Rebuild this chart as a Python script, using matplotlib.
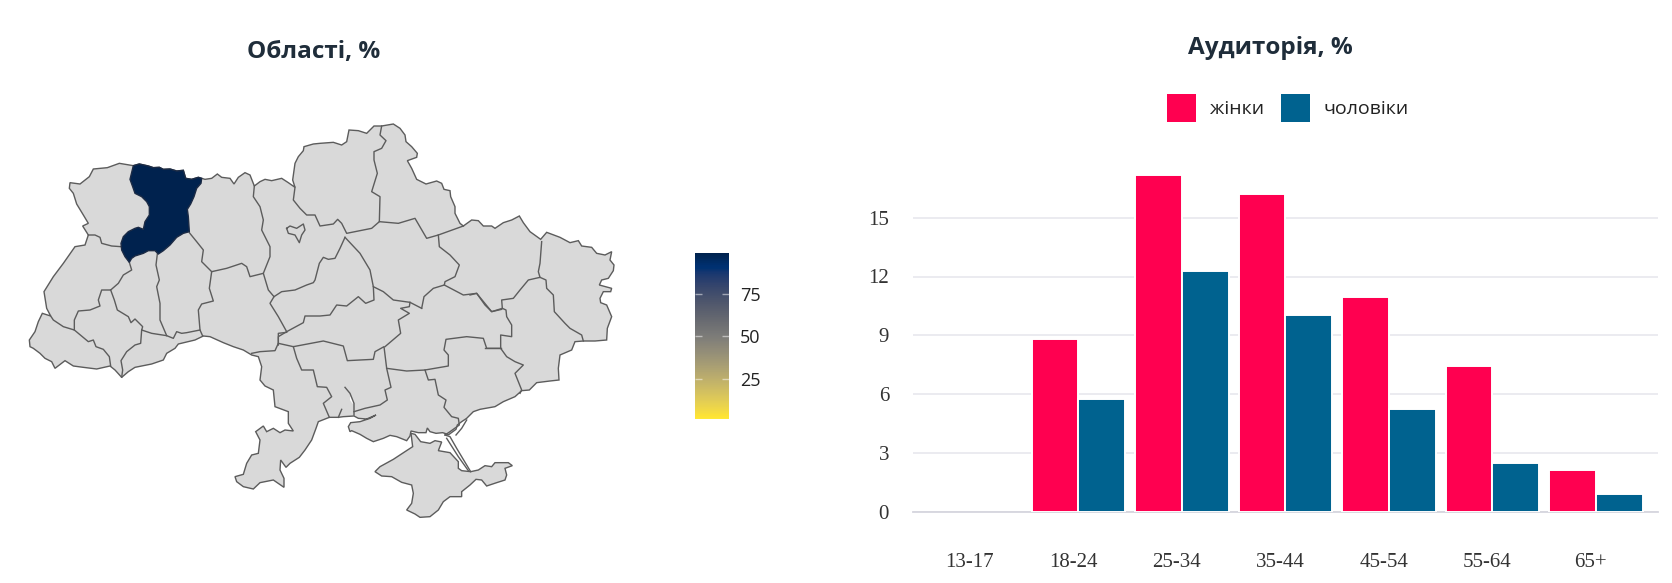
import numpy as np
import matplotlib
matplotlib.use('Agg')
import matplotlib.pyplot as plt
from matplotlib.cm import ScalarMappable
from matplotlib.colors import Normalize
from matplotlib.patches import Patch, Polygon

W, H = 1672, 583
plt.rcParams['font.family'] = ['Open Sans', 'DejaVu Sans']

# bar chart data
age_groups = ['13-17', '18-24', '25-34', '35-44', '45-54', '55-64', '65+']
women = [0, 8.8, 17.2, 16.2, 10.95, 7.43, 2.13]
men = [0, 5.73, 12.3, 10.03, 5.24, 2.47, 0.9]
y_ticks = [0, 3, 6, 9, 12, 15]

# map data: only one oblast has a value, the rest have no data
rivne_share = 99
scale_min, scale_max = 1.5, 99
scale_ticks = [25, 50, 75]


def crop(x0, y0, pts):
    return [(x0 + x / 3, y0 + y / 3) for x, y in pts]


def west(pts):
    return crop(20, 100, pts)


def north(pts):
    return crop(300, 100, pts)


def east(pts):
    return crop(470, 200, pts)


def south(pts):
    return crop(210, 300, pts)


def azov(pts):
    return crop(350, 400, pts)


def carpath(pts):
    return crop(20, 290, pts)


mainland = (
    west([(340, 197), (358, 192), (385, 198), (400, 203), (418, 202), (430, 208), (450, 207), (470, 213), (490, 211),
          (497, 235), (515, 238), (535, 232), (545, 235), (555, 238), (575, 235), (592, 222), (605, 232), (630, 235),
          (642, 252), (655, 232), (675, 218), (690, 225), (703, 258), (720, 245), (735, 238), (755, 242), (785, 235),
          (805, 248), (825, 262), (818, 240), (825, 190), (835, 170), (850, 152), (852, 140), (880, 132)])
    + north([(60, 130), (100, 127), (125, 135), (140, 125), (147, 90), (175, 92), (200, 100), (222, 78), (245, 78),
             (280, 72), (300, 85), (315, 105), (318, 125), (335, 140), (352, 160), (350, 172), (322, 182), (335, 205),
             (350, 238), (378, 252), (410, 243), (425, 250), (432, 268), (450, 272), (452, 290), (465, 320), (465, 340),
             (480, 370), (490, 378), (515, 360), (535, 362), (550, 378), (575, 378), (585, 385), (610, 368), (635, 360),
             (658, 348), (670, 368), (690, 395), (722, 418)])
    + east([(230, 97), (270, 112), (300, 128), (325, 122), (335, 138), (365, 142), (380, 160), (405, 165), (425, 155),
            (420, 180), (432, 195), (430, 212), (415, 235), (395, 240), (388, 255), (425, 265), (422, 275), (400, 275),
            (390, 295), (392, 308), (410, 315), (425, 350), (412, 385), (410, 420), (375, 423), (340, 423), (315, 425),
            (305, 450), (270, 465), (265, 505), (267, 540), (240, 543), (200, 548), (178, 570), (155, 572), (135, 590),
            (100, 605), (75, 620), (30, 628)])
    + azov([(370, 35), (350, 55), (335, 65), (322, 75), (318, 88), (296, 104), (278, 98), (258, 100), (240, 95),
            (232, 84), (228, 98), (205, 98), (183, 93), (180, 108), (170, 122), (140, 110), (120, 106), (100, 115),
            (70, 125), (50, 115), (30, 103), (5, 92)])
    + south([(420, 395), (415, 380), (422, 368), (450, 365), (480, 355), (498, 345), (470, 357), (445, 355), (432, 348),
             (400, 350), (385, 352), (358, 352), (325, 365), (318, 385), (305, 420), (285, 450), (268, 472), (240, 490),
             (228, 502), (212, 480), (210, 510), (222, 535), (222, 562), (190, 540), (150, 548), (130, 567), (100, 560),
             (80, 545), (75, 530), (100, 523), (110, 490), (125, 465), (145, 460), (150, 420), (137, 395), (160, 378),
             (170, 395), (190, 385), (210, 398), (225, 390), (250, 393), (235, 370), (235, 335), (195, 320), (190, 270),
             (165, 258), (150, 240), (155, 200), (145, 170), (125, 165), (100, 150), (70, 140), (40, 128)])
    + carpath([(570, 140), (550, 138), (525, 150), (475, 162), (465, 175), (440, 190), (430, 210), (395, 222), (345, 232),
               (325, 245), (305, 262), (285, 240), (270, 228), (230, 237), (190, 232), (160, 228), (135, 212), (105, 235),
               (95, 215), (75, 205), (60, 190), (40, 175), (30, 170), (28, 150), (45, 125), (55, 95), (67, 70), (92, 78)])
    + west([(80, 625), (72, 575), (100, 530), (130, 490), (165, 440), (195, 435), (205, 405), (188, 378), (205, 370),
            (190, 345), (170, 312), (160, 280), (148, 265), (150, 248), (180, 252), (208, 230), (220, 207), (262, 203),
            (298, 190)])
)

crimea = azov([(75, 215), (90, 200), (130, 178), (165, 155), (188, 140), (183, 100), (195, 103), (212, 125), (240, 130),
               (255, 122), (275, 126), (265, 152), (300, 158), (325, 185), (325, 205), (335, 212), (362, 215), (385, 210),
               (405, 197), (425, 200), (435, 188), (475, 188), (487, 197), (465, 205), (470, 225), (465, 240), (440, 248),
               (410, 258), (395, 240), (378, 238), (360, 255), (335, 275), (335, 290), (300, 290), (280, 305), (265, 330),
               (240, 350), (210, 352), (195, 342), (170, 330), (185, 310), (190, 280), (185, 255), (155, 247), (125, 230),
               (95, 228)])

rivne = west([(340, 197), (358, 192), (385, 198), (400, 203), (418, 202), (430, 208), (450, 207), (470, 213), (490, 211),
              (497, 235), (515, 238), (535, 232), (545, 235), (543, 250), (530, 265), (522, 290), (512, 312), (502, 328),
              (505, 350), (508, 395), (490, 400), (470, 412), (450, 435), (430, 452), (415, 462), (405, 452), (385, 452),
              (370, 460), (345, 468), (335, 475), (328, 487), (315, 470), (305, 450), (303, 430), (310, 410), (325, 395),
              (345, 385), (355, 382), (370, 388), (375, 365), (388, 345), (388, 320), (380, 305), (365, 290), (345, 280),
              (338, 260), (330, 238)])

kyiv_city = west([(800, 385), (810, 378), (830, 385), (850, 372), (855, 390), (845, 405), (838, 428), (825, 405),
                  (805, 400), (800, 385)])

borders = [
    west([(205, 405), (225, 405), (240, 412), (245, 430), (275, 438), (303, 440)]),
    west([(328, 487), (335, 510), (310, 525), (295, 550), (272, 570), (245, 570), (235, 600), (240, 618), (210, 630),
          (175, 633), (163, 660), (163, 690), (130, 680), (100, 660), (92, 648)]),
    west([(163, 690), (205, 725), (220, 720), (228, 740), (250, 748), (268, 770), (272, 798)]),
    carpath([(305, 262), (308, 240), (303, 212), (320, 185), (345, 165), (362, 160), (365, 120)]),
    west([(272, 570), (283, 600), (292, 630), (325, 650), (333, 668), (345, 657), (368, 680), (365, 690), (395, 700),
          (440, 707), (460, 715), (470, 695), (485, 700), (500, 698), (540, 690), (548, 708)]),
    west([(412, 462), (408, 495), (418, 540), (410, 560), (420, 610), (420, 660), (440, 707)]),
    west([(540, 690), (535, 630), (545, 612), (580, 603), (568, 565), (575, 515), (620, 505), (665, 490), (680, 500),
          (690, 530), (730, 520), (745, 570), (762, 590), (750, 610), (775, 650), (800, 695), (775, 710), (775, 735)]),
    west([(508, 398), (530, 425), (550, 450), (545, 485), (575, 515)]),
    west([(703, 258), (700, 290), (720, 320), (730, 360), (725, 390), (750, 440), (750, 470), (730, 520)]),
    west([(762, 590), (785, 575), (825, 570), (860, 555), (880, 548)])
    + north([(45, 540), (58, 490), (70, 472), (85, 478), (105, 475), (120, 445), (135, 412)]),
    west([(825, 262), (820, 300), (840, 325)])
    + north([(20, 345), (45, 345), (60, 378), (100, 372), (113, 358), (125, 370), (140, 400), (190, 390), (215, 385),
             (238, 365)]),
    north([(245, 78), (240, 105), (258, 122), (245, 145), (222, 155), (222, 180), (232, 220), (215, 275), (240, 290),
           (238, 365), (295, 370), (345, 355), (380, 415), (415, 405), (490, 378)]),
    north([(415, 405), (418, 440), (450, 465), (478, 495), (465, 530), (435, 545), (433, 555), (400, 565), (372, 590),
           (365, 625)]),
    north([(135, 412), (180, 460), (210, 510), (220, 560), (250, 575), (280, 600), (330, 607), (365, 625)]),
    north([(330, 607), (328, 620), (302, 625), (328, 640), (295, 660), (302, 700), (255, 740)]),
    west([(800, 695), (850, 668), (855, 648), (900, 648)])
    + north([(90, 645), (110, 615), (140, 618), (175, 590), (197, 610), (222, 600), (220, 560)]),
    south([(125, 160), (150, 155), (195, 152), (205, 130), (250, 140), (340, 123), (400, 138), (412, 182), (450, 180),
           (490, 178), (495, 155), (522, 140), (530, 205), (543, 262), (525, 270), (532, 300), (510, 315), (465, 325),
           (432, 335)]),
    south([(230, 97), (205, 100), (205, 130)]),
    south([(250, 140), (260, 175), (275, 210), (310, 210), (322, 260), (350, 262), (365, 290), (340, 310), (358, 352)]),
    south([(530, 205), (590, 213), (645, 210), (715, 198), (715, 165), (702, 150), (708, 118), (770, 110), (820, 115),
           (830, 145), (872, 145)]),
    south([(645, 210), (655, 240), (675, 238), (685, 285), (708, 300), (702, 322), (725, 350), (745, 355), (748, 375),
           (720, 395), (705, 405)]),
    east([(0, 285), (20, 280), (45, 315), (65, 335), (97, 325), (108, 330), (110, 350), (125, 375), (125, 410), (92, 405),
          (92, 445), (110, 470), (135, 485), (160, 495), (135, 520), (155, 570), (150, 580)]),
    east([(45, 445), (92, 445)]),
    north([(433, 555), (490, 585), (530, 580), (575, 635), (605, 628)]),
    east([(97, 325), (95, 300), (130, 295), (150, 270), (175, 240), (210, 232), (228, 240), (230, 265), (250, 285),
          (253, 335), (285, 370), (300, 385), (335, 405), (340, 423)]),
    east([(215, 125), (210, 190), (205, 215), (210, 232)]),
    south([(405, 262), (420, 280), (432, 310), (432, 345)]),
    south([(385, 352), (395, 328)]),
    azov([(350, 60), (335, 85), (318, 105)]),
    azov([(285, 105), (300, 110), (320, 145), (362, 215)]),
    azov([(290, 115), (325, 170), (355, 212)]),
]

buh_water = south([(420, 288), (430, 300), (428, 312), (420, 300)])

fig = plt.figure(figsize=(W / 100, H / 100), dpi=100)

# the map axes spans the whole picture, in pixels
map_ax = fig.add_axes([0, 0, 1, 1])
map_ax.set_xlim(0, W)
map_ax.set_ylim(H, 0)
map_ax.axis('off')

cmap = plt.get_cmap('cividis_r')
norm = Normalize(scale_min, scale_max)
line_col = '#5c5c5c'

map_ax.add_patch(Polygon(mainland, closed=True, fc='#d9d9d9', ec=line_col, lw=1.0))
map_ax.add_patch(Polygon(crimea, closed=True, fc='#d9d9d9', ec=line_col, lw=1.0))
map_ax.add_patch(Polygon(buh_water, closed=True, fc='white', ec='none'))
for b in borders + [kyiv_city]:
    map_ax.plot(*zip(*b), color=line_col, lw=1.0, solid_joinstyle='round')
map_ax.add_patch(Polygon(rivne, closed=True, fc=cmap(norm(rivne_share)), ec='#1c2b45', lw=1.0, zorder=5))

fig.text(314 / W, 1 - 52 / H, 'Області, %', ha='center', va='center', fontsize=17.5, fontweight='bold', color='#1f2d3a')
fig.text(1270 / W, 1 - 48 / H, 'Аудиторія, %', ha='center', va='center', fontsize=17.5, fontweight='bold', color='#1f2d3a')

# colour scale
cax = fig.add_axes([695 / W, 1 - 419 / H, 34 / W, 166 / H])
cb = fig.colorbar(ScalarMappable(norm=norm, cmap=cmap), cax=cax, ticks=scale_ticks)
cb.outline.set_visible(False)
cax.tick_params(left=True, right=True, direction='in', length=5, width=1, color=(1, 1, 1, 0.5),
                labelsize=13, labelcolor='#222222', pad=8)

# bar chart
ax = fig.add_axes([912.7 / W, 1 - 511.7 / H, 745.3 / W, 352.8 / H])
x = np.arange(len(age_groups))
bar_w = 0.451
for vals, col, off in [(women, '#ff0050', -bar_w / 2), (men, '#00628f', bar_w / 2)]:
    ax.bar(x + off, vals, bar_w, color=col, edgecolor='white',
           linewidth=[0 if v == 0 else 1.4 for v in vals], zorder=3)

ax.set_xlim(-0.6, 6.6)
ax.set_ylim(0, 18)
ax.set_yticks(y_ticks)
ax.set_xticks(x - 0.05, age_groups)
ax.grid(axis='y', color='#e6e6ec', lw=1.1)
ax.set_axisbelow(True)
for s in ax.spines.values():
    s.set_visible(False)
ax.axhline(0, color='#d5d5de', lw=1.3, zorder=1, clip_on=False)
ax.tick_params(length=0, labelsize=15, labelcolor='#333333', labelfontfamily='Liberation Serif')
ax.tick_params(axis='y', pad=17)
ax.tick_params(axis='x', pad=30)

handles = [Patch(fc='#ff0050', ec='none'), Patch(fc='#00628f', ec='none')]
ax.legend(handles, ['жінки', 'чоловіки'], ncol=2, loc='center', bbox_to_anchor=(1288 / W, 1 - 108 / H),
          bbox_transform=fig.transFigure, frameon=False, fontsize=14, handlelength=1.5, handleheight=1.9,
          handletextpad=0.72, columnspacing=0.85, labelcolor='#222222')

fig.savefig('out.png', dpi=100)
